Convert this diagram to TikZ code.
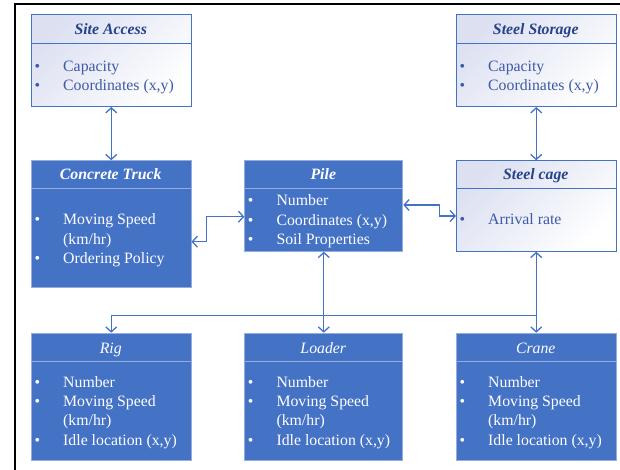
\documentclass[tikz,border=0pt]{standalone}
\usepackage{fontspec}
\setmainfont{Liberation Serif}
\usetikzlibrary{arrows.meta}

\definecolor{accent}{RGB}{68,114,196}
\definecolor{lavender}{RGB}{220,224,241}
\definecolor{deeptext}{RGB}{38,66,138}
\definecolor{softtext}{RGB}{60,90,168}
\definecolor{paleline}{RGB}{150,172,220}

\newcommand\entryfont{\fontsize{15.8}{19.3}\selectfont}
\newcommand\entrylist[1]{\begin{tabular}[t]{@{}p{28.6pt}@{}l@{}}#1\end{tabular}}

\tikzset{
  entity/.style={rectangle, inner sep=0pt, anchor=north west, line width=1pt},
  lightbox/.style={entity, draw=accent, left color=lavender, right color=white, shading angle=45},
  darkbox/.style={entity, draw=paleline, fill=accent},
  lightrule/.style={draw=accent, line width=1pt},
  darkrule/.style={draw=paleline, line width=1pt},
  heading/.style={inner sep=0pt, anchor=base, font=\entryfont\itshape},
  strongheading/.style={heading, font=\entryfont\bfseries\itshape},
  bodytext/.style={inner sep=0pt, anchor=base west, font=\entryfont},
  barb/.tip={Straight Barb[length=5pt,width=11pt]},
  wire/.style={draw=accent, line width=1.3pt},
  link/.style={wire, barb-barb},
  feed/.style={wire, -barb},
}

\begin{document}
\begin{tikzpicture}[x=1pt,y=-1pt]
\useasboundingbox (0,0) rectangle (620,470);

% outer frame
\draw[line width=2.2pt] (15,470) -- (15,4.2) -- (620,4.2);

% ---- top row ----
\node[lightbox, minimum width=159.5pt, minimum height=91.7pt] (sa) at (31,14.3) {};
\draw[lightrule] (31,43.3) -- (190.5,43.3);
\node[strongheading, text=deeptext] (saT) at (110.75,34.7) {Site Access};
\node[bodytext, text=softtext] (saB) at (34.4,71.5) {\entrylist{\textbullet & Capacity\\ \textbullet & Coordinates (x,y)}};

\node[lightbox, minimum width=159.5pt, minimum height=91.7pt] (ss) at (456,14.3) {};
\draw[lightrule] (456,43.3) -- (615.5,43.3);
\node[strongheading, text=deeptext] (ssT) at (535.75,34.7) {Steel Storage};
\node[bodytext, text=softtext] (ssB) at (459.4,71.5) {\entrylist{\textbullet & Capacity\\ \textbullet & Coordinates (x,y)}};

% ---- middle row ----
\node[darkbox, minimum width=159.5pt, minimum height=126.7pt] (ct) at (31,160.3) {};
\draw[darkrule] (31,188.8) -- (190.5,188.8);
\node[strongheading, text=white] (ctT) at (110.75,179.5) {Concrete Truck};
\node[bodytext, text=white] (ctB) at (34.4,225) {\entrylist{\textbullet & Moving Speed\\ & (km/hr)\\ \textbullet & Ordering Policy}};

\node[darkbox, minimum width=158pt, minimum height=90.4pt] (pile) at (244.3,160.3) {};
\draw[darkrule] (244.3,188.8) -- (402.3,188.8);
\node[strongheading, text=white] (pileT) at (323.3,179.5) {Pile};
\node[bodytext, text=white] (pileB) at (247.7,206) {\entrylist{\textbullet & Number\\ \textbullet & Coordinates (x,y)\\ \textbullet & Soil Properties}};

\node[lightbox, minimum width=159.5pt, minimum height=90.4pt] (cage) at (456,160.3) {};
\draw[lightrule] (456,188.8) -- (615.5,188.8);
\node[strongheading, text=deeptext] (cageT) at (535.75,179.5) {Steel cage};
\node[bodytext, text=softtext] (cageB) at (459.4,225) {\entrylist{\textbullet & Arrival rate}};

% ---- bottom row ----
\node[darkbox, minimum width=159.5pt, minimum height=127.3pt] (rig) at (31,332.7) {};
\draw[darkrule] (31,361.3) -- (190.5,361.3);
\node[heading, text=white] (rigT) at (110.75,353.3) {Rig};
\node[bodytext, text=white] (rigB) at (34.4,387.3) {\entrylist{\textbullet & Number\\ \textbullet & Moving Speed\\ & (km/hr)\\ \textbullet & Idle location (x,y)}};

\node[darkbox, minimum width=158pt, minimum height=127.3pt] (loader) at (244.3,332.7) {};
\draw[darkrule] (244.3,361.3) -- (402.3,361.3);
\node[heading, text=white] (loaderT) at (323.3,353.3) {Loader};
\node[bodytext, text=white] (loaderB) at (247.7,387.3) {\entrylist{\textbullet & Number\\ \textbullet & Moving Speed\\ & (km/hr)\\ \textbullet & Idle location (x,y)}};

\node[darkbox, minimum width=159.5pt, minimum height=127.3pt] (crane) at (456,332.7) {};
\draw[darkrule] (456,361.3) -- (615.5,361.3);
\node[heading, text=white] (craneT) at (535.75,353.3) {Crane};
\node[bodytext, text=white] (craneB) at (459.4,387.3) {\entrylist{\textbullet & Number\\ \textbullet & Moving Speed\\ & (km/hr)\\ \textbullet & Idle location (x,y)}};

% ---- connectors ----
\draw[link] (sa.south) -- (ct.north);
\draw[link] (ss.south) -- (cage.north);
\draw[link] (ct.east |- 0,241.7) -| (206.7,216.7) -- (pile.west |- 0,216.7);
\draw[link] (pile.east |- 0,205) -| (439.3,216) -- (cage.west |- 0,216);
\draw[link] (pile.south) -- (loader.north);
\draw[link] (cage.south) -- (crane.north);

\coordinate (busL) at (rig.north |- 0,315.7);
\coordinate (busR) at (crane.north |- 0,315.7);
\draw[wire] (busL) -- (busR);
\draw[feed] (busL) -- (rig.north);
\end{tikzpicture}
\end{document}
